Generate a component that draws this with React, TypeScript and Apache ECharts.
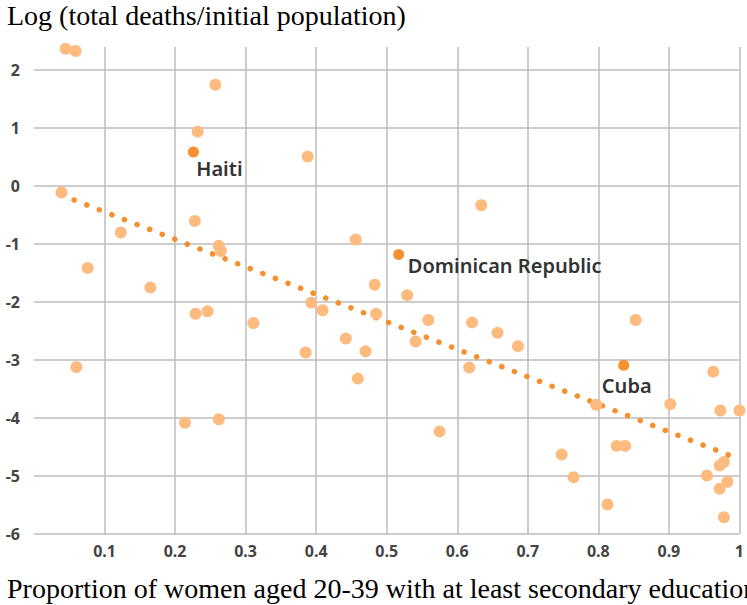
import React, { useEffect, useRef } from "react";
import * as echarts from "echarts";

const yTitle = "Log (total deaths/initial population)";
const xTitle = "Proportion of women aged 20-39 with at least secondary education";

const otherX = [
  0.045, 0.059, 0.257, 0.232, 0.039, 0.228, 0.123, 0.262, 0.265, 0.076, 0.165,
  0.388, 0.634, 0.456, 0.483, 0.529, 0.229, 0.246, 0.311, 0.06, 0.214, 0.262,
  0.393, 0.409, 0.485, 0.559, 0.621, 0.657, 0.686, 0.442, 0.541, 0.385, 0.47,
  0.617, 0.459, 0.575, 0.853, 0.963, 0.797, 0.902, 0.973, 1.0, 0.748, 0.826,
  0.838, 0.765, 0.813, 0.954, 0.972, 0.978, 0.983, 0.972, 0.978,
];
const otherY = [
  2.37, 2.33, 1.75, 0.94, -0.11, -0.6, -0.8, -1.03, -1.12, -1.41, -1.75,
  0.51, -0.33, -0.92, -1.7, -1.88, -2.2, -2.16, -2.36, -3.12, -4.08, -4.02,
  -2.01, -2.14, -2.2, -2.31, -2.35, -2.53, -2.76, -2.63, -2.68, -2.87, -2.85,
  -3.13, -3.32, -4.23, -2.31, -3.2, -3.77, -3.76, -3.87, -3.87, -4.63, -4.48,
  -4.48, -5.02, -5.49, -4.99, -4.82, -4.76, -5.1, -5.22, -5.71,
];

const highlightNames = ["Haiti", "Dominican Republic", "Cuba"];
const highlightX = [0.226, 0.517, 0.836];
const highlightY = [0.59, -1.18, -3.09];

const trendX = [0.039, 1.0];
const trendY = [-0.154, -4.71];

const labelOffsets: Record<string, number[]> = {
  Haiti: [26, 17],
  "Dominican Republic": [106, 11],
  Cuba: [3, 20],
};

export default function App() {
  const ref = useRef<HTMLDivElement>(null);
  useEffect(() => {
    if (!ref.current) return;
    const chart = echarts.init(ref.current, undefined, { renderer: "svg" });
    const tickFont = {
      fontFamily: "Noto Sans",
      fontWeight: "bold" as const,
      fontSize: 16,
      color: "#444",
    };
    chart.setOption({
      animation: false,
      grid: { left: 34, right: 7, top: 47, bottom: 71, containLabel: false },
      xAxis: {
        type: "value",
        min: 0,
        max: 1,
        interval: 0.1,
        axisLine: { show: false },
        axisTick: { show: false },
        axisLabel: { ...tickFont, margin: 9, showMinLabel: false },
        splitLine: {
          show: true,
          showMinLine: false,
          lineStyle: { color: "#bcbcbc", width: 1.5 },
        },
      },
      yAxis: {
        type: "value",
        min: -6,
        max: 2.4,
        interval: 1,
        axisLine: { show: false },
        axisTick: { show: false },
        axisLabel: {
          ...tickFont,
          margin: 14,
          showMaxLabel: false,
          formatter: (v: number) => (v > 2.01 ? "" : String(v)),
        },
        splitLine: {
          show: true,
          showMaxLine: false,
          lineStyle: { color: "#bcbcbc", width: 1.5 },
        },
      },
      graphic: [
        {
          type: "text",
          x: 7,
          y: 1,
          style: {
            text: yTitle,
            fontFamily: "Liberation Serif",
            fontSize: 28,
            fill: "#000",
            verticalAlign: "top",
          },
        },
        {
          type: "text",
          x: 7,
          y: 574,
          style: {
            text: xTitle,
            fontFamily: "Liberation Serif",
            fontSize: 28,
            fill: "#000",
            verticalAlign: "top",
          },
        },
      ],
      series: [
        {
          type: "line",
          data: trendX.map((x, i) => [x, trendY[i]]),
          symbol: "none",
          z: 1,
          lineStyle: {
            color: "#f5902f",
            width: 5.5,
            type: [0.1, 13.4],
            cap: "round",
          },
        },
        {
          type: "scatter",
          clip: false,
          z: 2,
          symbolSize: 12,
          itemStyle: { color: "#fdbb80", opacity: 1 },
          data: otherX.map((x, i) => [x, otherY[i]]),
        },
        {
          type: "scatter",
          clip: false,
          z: 3,
          symbolSize: 11,
          itemStyle: { color: "#f7912f", opacity: 1 },
          data: highlightX.map((x, i) => ({
            name: highlightNames[i],
            value: [x, highlightY[i]],
            label: {
              show: true,
              position: "inside",
              offset: labelOffsets[highlightNames[i]],
              formatter: "{b}",
              fontFamily: "Noto Sans",
              fontWeight: 600,
              fontSize: 20,
              color: "#333",
            },
          })),
        },
      ],
    });
    return () => chart.dispose();
  }, []);
  return (
    <div
      ref={ref}
      style={{ position: "absolute", left: 0, top: 0, width: 747, height: 605 }}
    />
  );
}
